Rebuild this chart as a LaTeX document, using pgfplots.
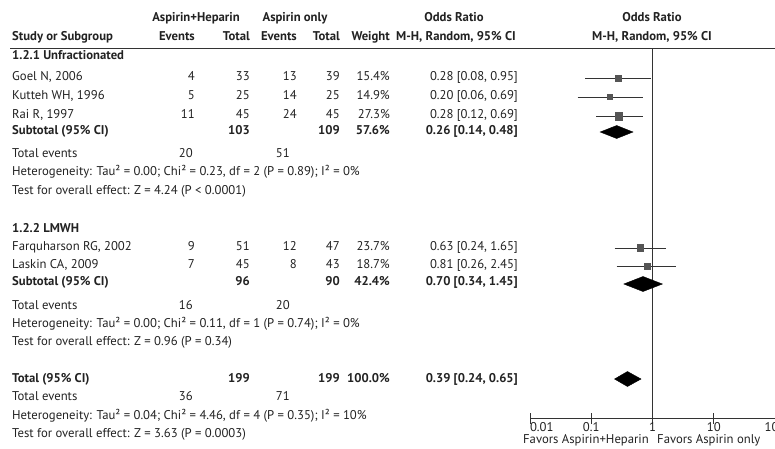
\documentclass[border=0pt]{standalone}
\usepackage{fontspec}
\setmainfont{PT Sans}
\usepackage{pgfplots}
\pgfplotsset{compat=1.18}
\definecolor{txt}{HTML}{222222}
\definecolor{sq}{HTML}{555555}
\definecolor{ln}{HTML}{333333}
\newcommand\tl[3]{\node[anchor=mid west] at (#1,#2) {#3};}
\newcommand\tr[3]{\node[anchor=mid east] at (#1,#2) {#3};}
\newcommand\tc[3]{\node[anchor=mid] at (#1,#2) {#3};}
\begin{document}
\begin{tikzpicture}[x=1pt,y=-1pt,every node/.style={inner sep=0pt,text=txt,font=\fontsize{12.7}{14}\selectfont}]
\useasboundingbox (0,0) rectangle (775,448);
% header
\tc{196}{19}{\bfseries Aspirin+Heparin}
\tc{295}{19}{\bfseries Aspirin only}
\tc{454}{19}{\bfseries Odds Ratio}
\tc{652}{19}{\bfseries Odds Ratio}
\tl{12}{38}{\bfseries Study or Subgroup}
\tr{195}{38}{\bfseries Events}
\tr{250}{38}{\bfseries Total}
\tr{297}{38}{\bfseries Events}
\tr{340}{38}{\bfseries Total}
\tr{390}{38}{\bfseries Weight}
\tc{456}{38}{\bfseries M-H, Random, 95\% CI}
\tc{652}{38}{\bfseries M-H, Random, 95\% CI}
\draw[ln,line width=0.8pt] (10,48) -- (775,48);
% group 1
\tl{12}{57}{\bfseries 1.2.1 Unfractionated}
\tl{12}{78}{Goel N, 2006}\tr{195}{78}{4}\tr{250}{78}{33}\tr{297}{78}{13}\tr{340}{78}{39}\tr{390}{78}{15.4\%}\tr{518}{78}{0.28 [0.08, 0.95]}
\tl{12}{97}{Kutteh WH, 1996}\tr{195}{97}{5}\tr{250}{97}{25}\tr{297}{97}{14}\tr{340}{97}{25}\tr{390}{97}{14.9\%}\tr{518}{97}{0.20 [0.06, 0.69]}
\tl{12}{116}{Rai R, 1997}\tr{195}{116}{11}\tr{250}{116}{45}\tr{297}{116}{24}\tr{340}{116}{45}\tr{390}{116}{27.3\%}\tr{518}{116}{0.28 [0.12, 0.69]}
\tl{12}{132}{\bfseries Subtotal (95\% CI)}\tr{250}{132}{\bfseries 103}\tr{340}{132}{\bfseries 109}\tr{390}{132}{\bfseries 57.6\%}\tr{518}{132}{\bfseries 0.26 [0.14, 0.48]}
\tl{12}{155}{Total events}\tr{193}{155}{20}\tr{290}{155}{51}
\tl{12}{173}{Heterogeneity: Tau² = 0.00; Chi² = 0.23, df = 2 (P = 0.89); I² = 0\%}
\tl{12}{192}{Test for overall effect: Z = 4.24 (P < 0.0001)}
% group 2
\tl{12}{230}{\bfseries 1.2.2 LMWH}
\tl{12}{248}{Farquharson RG, 2002}\tr{195}{248}{9}\tr{250}{248}{51}\tr{297}{248}{12}\tr{340}{248}{47}\tr{390}{248}{23.7\%}\tr{518}{248}{0.63 [0.24, 1.65]}
\tl{12}{266}{Laskin CA, 2009}\tr{195}{266}{7}\tr{250}{266}{45}\tr{297}{266}{8}\tr{340}{266}{43}\tr{390}{266}{18.7\%}\tr{518}{266}{0.81 [0.26, 2.45]}
\tl{12}{283}{\bfseries Subtotal (95\% CI)}\tr{250}{283}{\bfseries 96}\tr{340}{283}{\bfseries 90}\tr{390}{283}{\bfseries 42.4\%}\tr{518}{283}{\bfseries 0.70 [0.34, 1.45]}
\tl{12}{307}{Total events}\tr{193}{307}{16}\tr{290}{307}{20}
\tl{12}{325}{Heterogeneity: Tau² = 0.00; Chi² = 0.11, df = 1 (P = 0.74); I² = 0\%}
\tl{12}{343}{Test for overall effect: Z = 0.96 (P = 0.34)}
% total
\tl{12}{380}{\bfseries Total (95\% CI)}\tr{250}{380}{\bfseries 199}\tr{340}{380}{\bfseries 199}\tr{390}{380}{\bfseries 100.0\%}\tr{518}{380}{\bfseries 0.39 [0.24, 0.65]}
\tl{12}{398}{Total events}\tr{193}{398}{36}\tr{290}{398}{71}
\tl{12}{417}{Heterogeneity: Tau² = 0.04; Chi² = 4.46, df = 4 (P = 0.35); I² = 10\%}
\tl{12}{435}{Test for overall effect: Z = 3.63 (P = 0.0003)}
\tr{649}{441}{Favors Aspirin+Heparin}
\tl{657}{441}{Favors Aspirin only}
\begin{axis}[at={(530pt,-418pt)},anchor=south west,scale only axis,
  width=245pt,height=370pt,xmode=log,xmin=0.01,xmax=100,ymin=-418,ymax=-48,
  axis x line=bottom,axis y line=none,axis line style={-,ln,line width=0.8pt},
  xtick={0.01,0.1,1,10,100},xticklabels={\makebox[0pt][l]{0.01},0.1,1,10,100},
  xminorticks=false,tick align=center,major tick length=11pt,
  tick style={ln,line width=0.8pt},
  xticklabel style={font=\fontsize{12.7}{14}\selectfont,text=txt,inner sep=0pt,yshift=1.5pt},
  clip=false]
\addplot[ln,line width=0.8pt] coordinates {(1,-48) (1,-418)};
% CIs
\addplot[ln,line width=0.8pt] coordinates {(0.08,-78) (0.95,-78)};
\addplot[ln,line width=0.8pt] coordinates {(0.06,-97) (0.69,-97)};
\addplot[ln,line width=0.8pt] coordinates {(0.12,-116) (0.69,-116)};
\addplot[ln,line width=0.8pt] coordinates {(0.24,-248) (1.65,-248)};
\addplot[ln,line width=0.8pt] coordinates {(0.26,-266) (2.45,-266)};
% squares
\addplot[only marks,mark=square*,mark size=3,sq] coordinates {(0.28,-78)};
\addplot[only marks,mark=square*,mark size=2.6,sq] coordinates {(0.20,-97)};
\addplot[only marks,mark=square*,mark size=3.8,sq] coordinates {(0.28,-116)};
\addplot[only marks,mark=square*,mark size=3.4,sq] coordinates {(0.63,-248)};
\addplot[only marks,mark=square*,mark size=3.0,sq] coordinates {(0.81,-266)};
% diamonds
\addplot[fill=black,draw=black] coordinates {(0.14,-132) (0.26,-125.5) (0.48,-132) (0.26,-138.5)} -- cycle;
\addplot[fill=black,draw=black] coordinates {(0.34,-284) (0.70,-276.5) (1.45,-284) (0.70,-291.5)} -- cycle;
\addplot[fill=black,draw=black] coordinates {(0.24,-379) (0.39,-371.5) (0.65,-379) (0.39,-386.5)} -- cycle;
\end{axis}
\end{tikzpicture}
\end{document}
